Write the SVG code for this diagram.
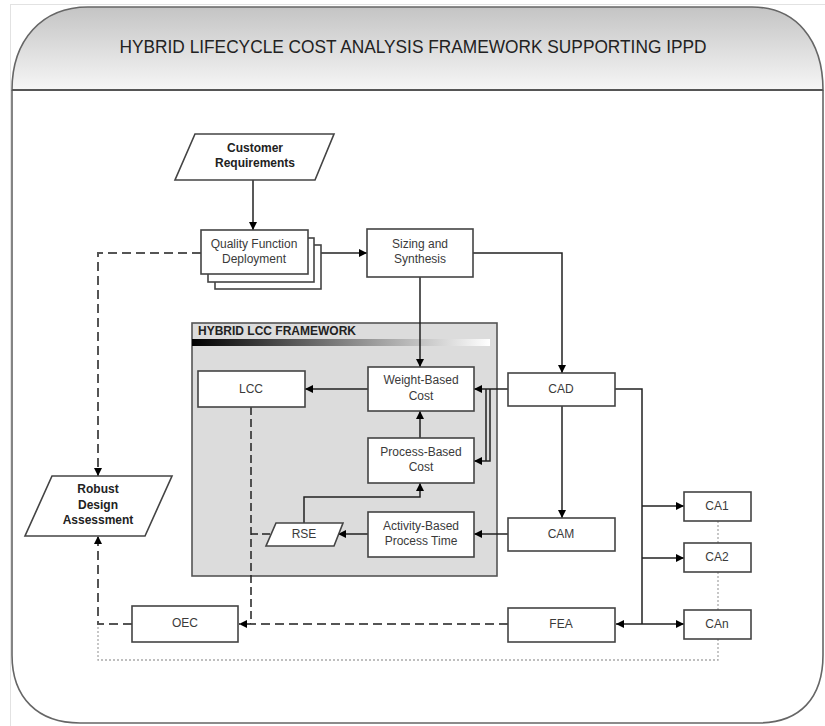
<svg xmlns="http://www.w3.org/2000/svg" width="825" height="726" viewBox="0 0 825 726">
<defs>
<linearGradient id="hdr" x1="0" y1="0" x2="0" y2="1">
<stop offset="0" stop-color="#c4c4c4"/>
<stop offset="1" stop-color="#f6f6f6"/>
</linearGradient>
<linearGradient id="bar" x1="0" y1="0" x2="1" y2="0">
<stop offset="0" stop-color="#000"/>
<stop offset="1" stop-color="#fff"/>
</linearGradient>
<marker id="ah" viewBox="0 0 10 10" refX="10" refY="5" markerWidth="8" markerHeight="8" markerUnits="userSpaceOnUse" orient="auto">
<path d="M0,0 L10,5 L0,10 Z" fill="#000"/>
</marker>
</defs>
<style>
.box{fill:#fff;stroke:#444;stroke-width:1.6}
.t{font-family:"Liberation Sans",Arial,sans-serif;font-size:12px;fill:#3a3a3a;text-anchor:middle;dominant-baseline:middle}
.b{font-weight:bold;fill:#222}
.c{fill:none;stroke:#222;stroke-width:1.5}
.d{fill:none;stroke:#555;stroke-width:2;stroke-dasharray:9,5}
.dd{fill:none;stroke:#222;stroke-width:1.5;stroke-dasharray:8,4}
.dot{fill:none;stroke:#aaa;stroke-width:1.3;stroke-dasharray:2,2}
</style>
<rect x="10.5" y="4.5" width="820" height="725" fill="#fff" stroke="#e2e2e2" stroke-width="1"/>
<g id="frame">
<path d="M12,90 C12,40 42,7 88,7 H752 C796,7 823,40 823,90 Z" fill="url(#hdr)" stroke="#666" stroke-width="1.6"/>
<path d="M12,90 V655 C12,698 38,723 80,723 H758 C800,723 823,698 823,655 V90" fill="none" stroke="#666" stroke-width="1.6"/>
<line x1="12" y1="90" x2="823" y2="90" stroke="#555" stroke-width="2.2"/>
<text x="413" y="48" font-family="'Liberation Sans',Arial,sans-serif" font-size="18" fill="#222" text-anchor="middle" dominant-baseline="middle" textLength="587" lengthAdjust="spacingAndGlyphs">HYBRID LIFECYCLE COST ANALYSIS FRAMEWORK SUPPORTING IPPD</text>
</g>
<g id="framework">
<rect x="192" y="323" width="305" height="253" fill="#dcdcdc" stroke="#555" stroke-width="1.6"/>
<text x="198" y="332" class="t b" style="text-anchor:start" font-size="12">HYBRID LCC FRAMEWORK</text>
<rect x="192" y="339" width="298" height="7" fill="url(#bar)"/>
</g>
<g id="connectors">
<path class="c" d="M253,180 V230" marker-end="url(#ah)"/>
<path class="c" d="M308,253 H367" marker-end="url(#ah)"/>
<path class="c" d="M473,253 H562 V373" marker-end="url(#ah)"/>
<path class="c" d="M420,277 V367" marker-end="url(#ah)"/>
<path class="c" d="M368,389 H305" marker-end="url(#ah)"/>
<path class="c" d="M420,438 V411" marker-end="url(#ah)"/>
<path class="c" d="M508,389 H474" marker-end="url(#ah)"/>
<path class="c" d="M486,389 V461"/>
<path class="c" d="M490,389 V461 H474" marker-end="url(#ah)"/>
<path class="c" d="M562,406 V518" marker-end="url(#ah)"/>
<path class="c" d="M508,534 H474" marker-end="url(#ah)"/>
<path class="c" d="M368,534 H338" marker-end="url(#ah)"/>
<path class="c" d="M304,523 V497 H420 V483" marker-end="url(#ah)"/>
<path class="c" d="M615,389 H642 V624"/>
<path class="c" d="M642,506 H684" marker-end="url(#ah)"/>
<path class="c" d="M642,558 H684" marker-end="url(#ah)"/>
<path class="c" d="M642,624 H684" marker-end="url(#ah)"/>
<path class="c" d="M642,624 H616" marker-end="url(#ah)"/>
<path class="dd" d="M270,534 H251"/>
<path class="dd" d="M251,407 V624 H239" marker-end="url(#ah)"/>
<path class="d" d="M508,624 H251"/>
<path class="d" d="M201,253 H98 V476" marker-end="url(#ah)"/>
<path class="d" d="M132,624 H98 V536" marker-end="url(#ah)"/>
<path class="dot" d="M718,639 V660 H98 V626"/>
<path class="dot" d="M718,521 V543"/>
<path class="dot" d="M718,572 V610"/>
</g>
<g id="customer">
<polygon class="box" points="195,134 334,134 315,180 175,180"/>
<text class="t b" x="255" y="149">Customer</text>
<text class="t b" x="255" y="164">Requirements</text>
</g>
<g id="qfd">
<rect class="box" x="215" y="245" width="106" height="44"/>
<rect class="box" x="208" y="238" width="106" height="44"/>
<rect class="box" x="201" y="230" width="107" height="44"/>
<text class="t" x="254" y="245">Quality Function</text>
<text class="t" x="254" y="260">Deployment</text>
</g>
<g id="sizing">
<rect class="box" x="367" y="229" width="106" height="48"/>
<text class="t" x="420" y="245">Sizing and</text>
<text class="t" x="420" y="260">Synthesis</text>
</g>
<g id="lcc">
<rect class="box" x="198" y="371" width="107" height="36"/>
<text class="t" x="251" y="390">LCC</text>
</g>
<g id="weight">
<rect class="box" x="368" y="367" width="106" height="44"/>
<text class="t" x="421" y="381">Weight-Based</text>
<text class="t" x="421" y="397">Cost</text>
</g>
<g id="process">
<rect class="box" x="368" y="438" width="106" height="45"/>
<text class="t" x="421" y="453">Process-Based</text>
<text class="t" x="421" y="468">Cost</text>
</g>
<g id="activity">
<rect class="box" x="368" y="512" width="106" height="45"/>
<text class="t" x="421" y="527">Activity-Based</text>
<text class="t" x="421" y="542">Process Time</text>
</g>
<g id="rse">
<polygon class="box" points="276,523 343,523 334,546 266,546"/>
<text class="t" x="304" y="535">RSE</text>
</g>
<g id="cad">
<rect class="box" x="508" y="373" width="107" height="33"/>
<text class="t" x="561" y="390">CAD</text>
</g>
<g id="cam">
<rect class="box" x="508" y="518" width="107" height="33"/>
<text class="t" x="561" y="535">CAM</text>
</g>
<g id="fea">
<rect class="box" x="508" y="608" width="107" height="34"/>
<text class="t" x="561" y="625">FEA</text>
</g>
<g id="ca1">
<rect class="box" x="684" y="492" width="67" height="29"/>
<text class="t" x="717" y="507">CA1</text>
</g>
<g id="ca2">
<rect class="box" x="684" y="543" width="67" height="29"/>
<text class="t" x="717" y="558">CA2</text>
</g>
<g id="can">
<rect class="box" x="684" y="610" width="67" height="29"/>
<text class="t" x="717" y="625">CAn</text>
</g>
<g id="oec">
<rect class="box" x="132" y="606" width="106" height="36"/>
<text class="t" x="185" y="624">OEC</text>
</g>
<g id="robust">
<polygon class="box" points="52,476 172,476 145,536 25,536"/>
<text class="t b" x="98" y="490">Robust</text>
<text class="t b" x="98" y="506">Design</text>
<text class="t b" x="98" y="521">Assessment</text>
</g>
</svg>
